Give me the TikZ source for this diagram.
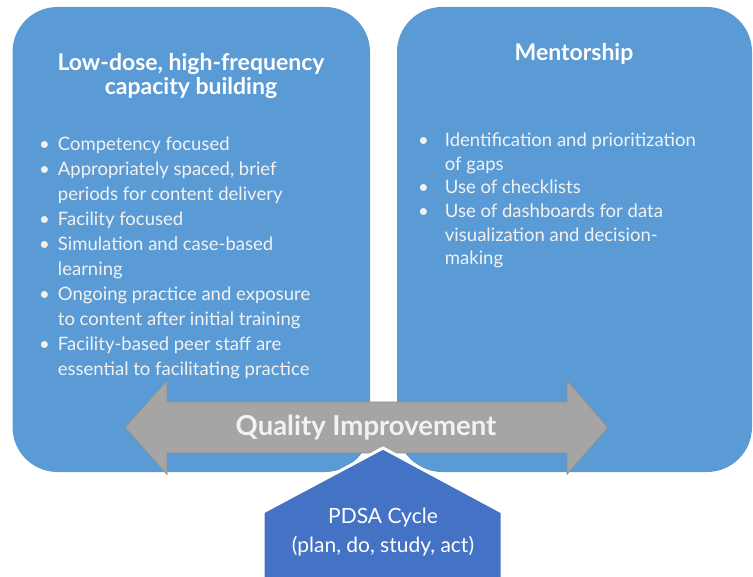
\documentclass[tikz,border=0pt]{standalone}
\usepackage{fontspec}
\setmainfont{Lato}
\usepackage{xcolor}
\usepackage{tikz}
\usetikzlibrary{positioning, calc}
\definecolor{panelblue}{RGB}{91, 155, 213}
\definecolor{qigrey}{RGB}{165, 165, 165}
\definecolor{qiedge}{RGB}{140, 140, 140}
\definecolor{pdsablue}{RGB}{68, 114, 196}
\definecolor{softwhite}{RGB}{242, 242, 242}

\begin{document}
\begin{tikzpicture}[x=1pt, y=-1pt,
    panel/.style={fill=panelblue, rounded corners=45pt},
    heading/.style={text=white, font=\fontsize{23}{24}\selectfont\bfseries, align=center},
    bullets/.style={text=softwhite, inner sep=0pt, anchor=north west}]
    \useasboundingbox (0,0) rectangle (753,577);

    % The two panels
    \fill[panel] (12.5,7) rectangle (370,472);
    \fill[panel] (397,7) rectangle (752,472);

    % Headings
    \node[heading] (lowdose) at (191,76) {Low-dose, high-frequency\\capacity building};
    \node[heading] (mentor) at (574,54) {Mentorship};

    % Bullet lists
    \node[bullets, font=\fontsize{18.5}{25}\selectfont] (lowlist) at (39,133) {%
        \begin{tabular}{@{}l@{\hspace{8pt}}l@{}}
        \textbullet & Competency focused\\
        \textbullet & Appropriately spaced, brief\\
                    & periods for content delivery\\
        \textbullet & Facility focused\\
        \textbullet & Simulation and case-based\\
                    & learning\\
        \textbullet & Ongoing practice and exposure\\
                    & to content after initial training\\
        \textbullet & Facility-based peer staff are\\
                    & essential to facilitating practice
        \end{tabular}};
    \node[bullets, font=\fontsize{18.5}{23.6}\selectfont] (mentorlist) at (418,130) {%
        \begin{tabular}{@{}l@{\hspace{16pt}}l@{}}
        \textbullet & Identification and prioritization\\
                    & of gaps\\
        \textbullet & Use of checklists\\
        \textbullet & Use of dashboards for data\\
                    & visualization and decision-\\
                    & making
        \end{tabular}};

    % The double arrow (Quality Improvement)
    \fill[qigrey, draw=qiedge, line width=0.6pt]
        (125,427.5) -- (167,380.5) -- (167,402) -- (567,402) -- (567,380.5)
        -- (608,427.5) -- (567,474.5) -- (567,453) -- (167,453) -- (167,474.5) -- cycle;
    \node[text=softwhite, font=\fontsize{27.5}{30}\selectfont\bfseries] (qi) at (366,428) {Quality Improvement};

    % PDSA block pushing up into the arrow
    \fill[pdsablue, draw=white, line width=3pt, line join=round]
        (383,448) -- (502,512) -- (502,582) -- (263,582) -- (263,512) -- cycle;
    \node[text=white, font=\fontsize{21}{29}\selectfont, align=center] (pdsa) at (383,532) {PDSA Cycle\\(plan, do, study, act)};
\end{tikzpicture}
\end{document}
